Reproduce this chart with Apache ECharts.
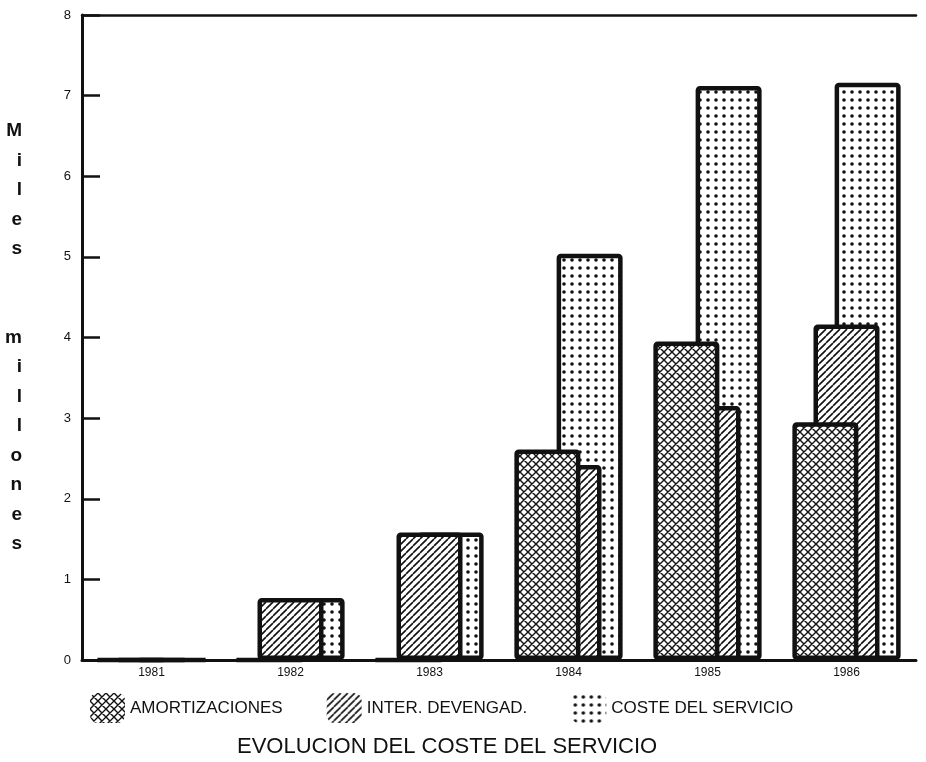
<!DOCTYPE html>
<html><head><meta charset="utf-8">
<script src="https://cdn.jsdelivr.net/npm/echarts@6/dist/echarts.min.js"></script>
<style>html,body{margin:0;padding:0;background:#fff}#c{width:926px;height:762px}</style>
</head><body><div id="c"></div>
<script>
const years = ['1981','1982','1983','1984','1985','1986'];
const amortizaciones = [0, 0, 0, 2.61, 3.95, 2.95];
const intereses = [0, 0.77, 1.58, 2.42, 3.15, 4.16];
const coste = [0, 0.77, 1.58, 5.04, 7.12, 7.16];
const yTicks = [0,1,2,3,4,5,6,7,8];
const seriesNames = ['AMORTIZACIONES','INTER. DEVENGAD.','COSTE DEL SERVICIO'];
const chartTitle = 'EVOLUCION DEL COSTE DEL SERVICIO';
const yName = 'Miles millones';

function tile(s, draw){
  const c = document.createElement('canvas'); c.width = s; c.height = s;
  const g = c.getContext('2d'); g.fillStyle = '#fff'; g.fillRect(0,0,s,s);
  g.strokeStyle = '#111'; g.fillStyle = '#111'; draw(g, s); return c;
}
const crossC = tile(8, (g,s)=>{ g.lineWidth = 1.4; g.beginPath();
  for (const d of [-s,0,s]) { g.moveTo(d,0); g.lineTo(d+s,s); g.moveTo(d,s); g.lineTo(d+s,0); }
  g.stroke(); });
const hatchC = tile(7, (g,s)=>{ g.lineWidth = 1.6; g.beginPath();
  for (const d of [-s,0,s]) { g.moveTo(d,s); g.lineTo(d+s,0); }
  g.stroke(); });
const dotC = tile(8, (g,s)=>{ g.beginPath(); g.arc(4,4,1.8,0,Math.PI*2); g.fill(); });
const pat = c => ({image: c, repeat: 'repeat'});

const font = '"Liberation Sans", Arial, sans-serif';
const letters = yName.replace(' ', '  ').split('').join('\n');

const base = {type:'bar', barWidth:66, barGap:'-68%'};
const chart = echarts.init(document.getElementById('c'));
chart.setOption({
  animation:false,
  textStyle:{fontFamily:font},
  title:{text:chartTitle, left:232, top:731, textStyle:{fontSize:22, fontWeight:'normal', color:'#111', fontFamily:font}},
  legend:{left:85, top:688, itemWidth:35, itemHeight:30, itemGap:44,
    textStyle:{fontSize:17, color:'#111', fontFamily:font},
    itemStyle:{borderWidth:0}, data:seriesNames},
  grid:{left:82, right:10, top:15, bottom:102},
  xAxis:[{type:'category', data:years,
    axisLine:{lineStyle:{color:'#111', width:3}}, axisTick:{show:false},
    axisLabel:{color:'#111', fontSize:12, margin:7}},
    {type:'category', position:'top', data:years,
    axisLine:{lineStyle:{color:'#111', width:2.5}}, axisTick:{show:false}, axisLabel:{show:false}}],
  yAxis:{type:'value', min:yTicks[0], max:yTicks[yTicks.length-1], interval:1,
    axisLine:{show:true, lineStyle:{color:'#111', width:3}},
    axisTick:{show:true, inside:true, length:18, lineStyle:{color:'#111', width:2.5}},
    axisLabel:{color:'#111', fontSize:13, margin:11},
    splitLine:{show:false},
    name:letters, nameLocation:'middle', nameRotate:0, nameGap:60,
    nameTextStyle:{fontSize:19, fontWeight:'bold', color:'#111', lineHeight:29.5, fontFamily:font}},
  series:[
    Object.assign({}, base, {name:seriesNames[0], data:amortizaciones, z:4,
      itemStyle:{color:pat(crossC), borderColor:'#111', borderWidth:4.5, borderRadius:2}}),
    Object.assign({}, base, {name:seriesNames[1], data:intereses, z:3,
      itemStyle:{color:pat(hatchC), borderColor:'#111', borderWidth:4.5, borderRadius:2}}),
    Object.assign({}, base, {name:seriesNames[2], data:coste, z:2,
      itemStyle:{color:pat(dotC), borderColor:'#111', borderWidth:4.5, borderRadius:2}})
  ]
});
</script></body></html>
